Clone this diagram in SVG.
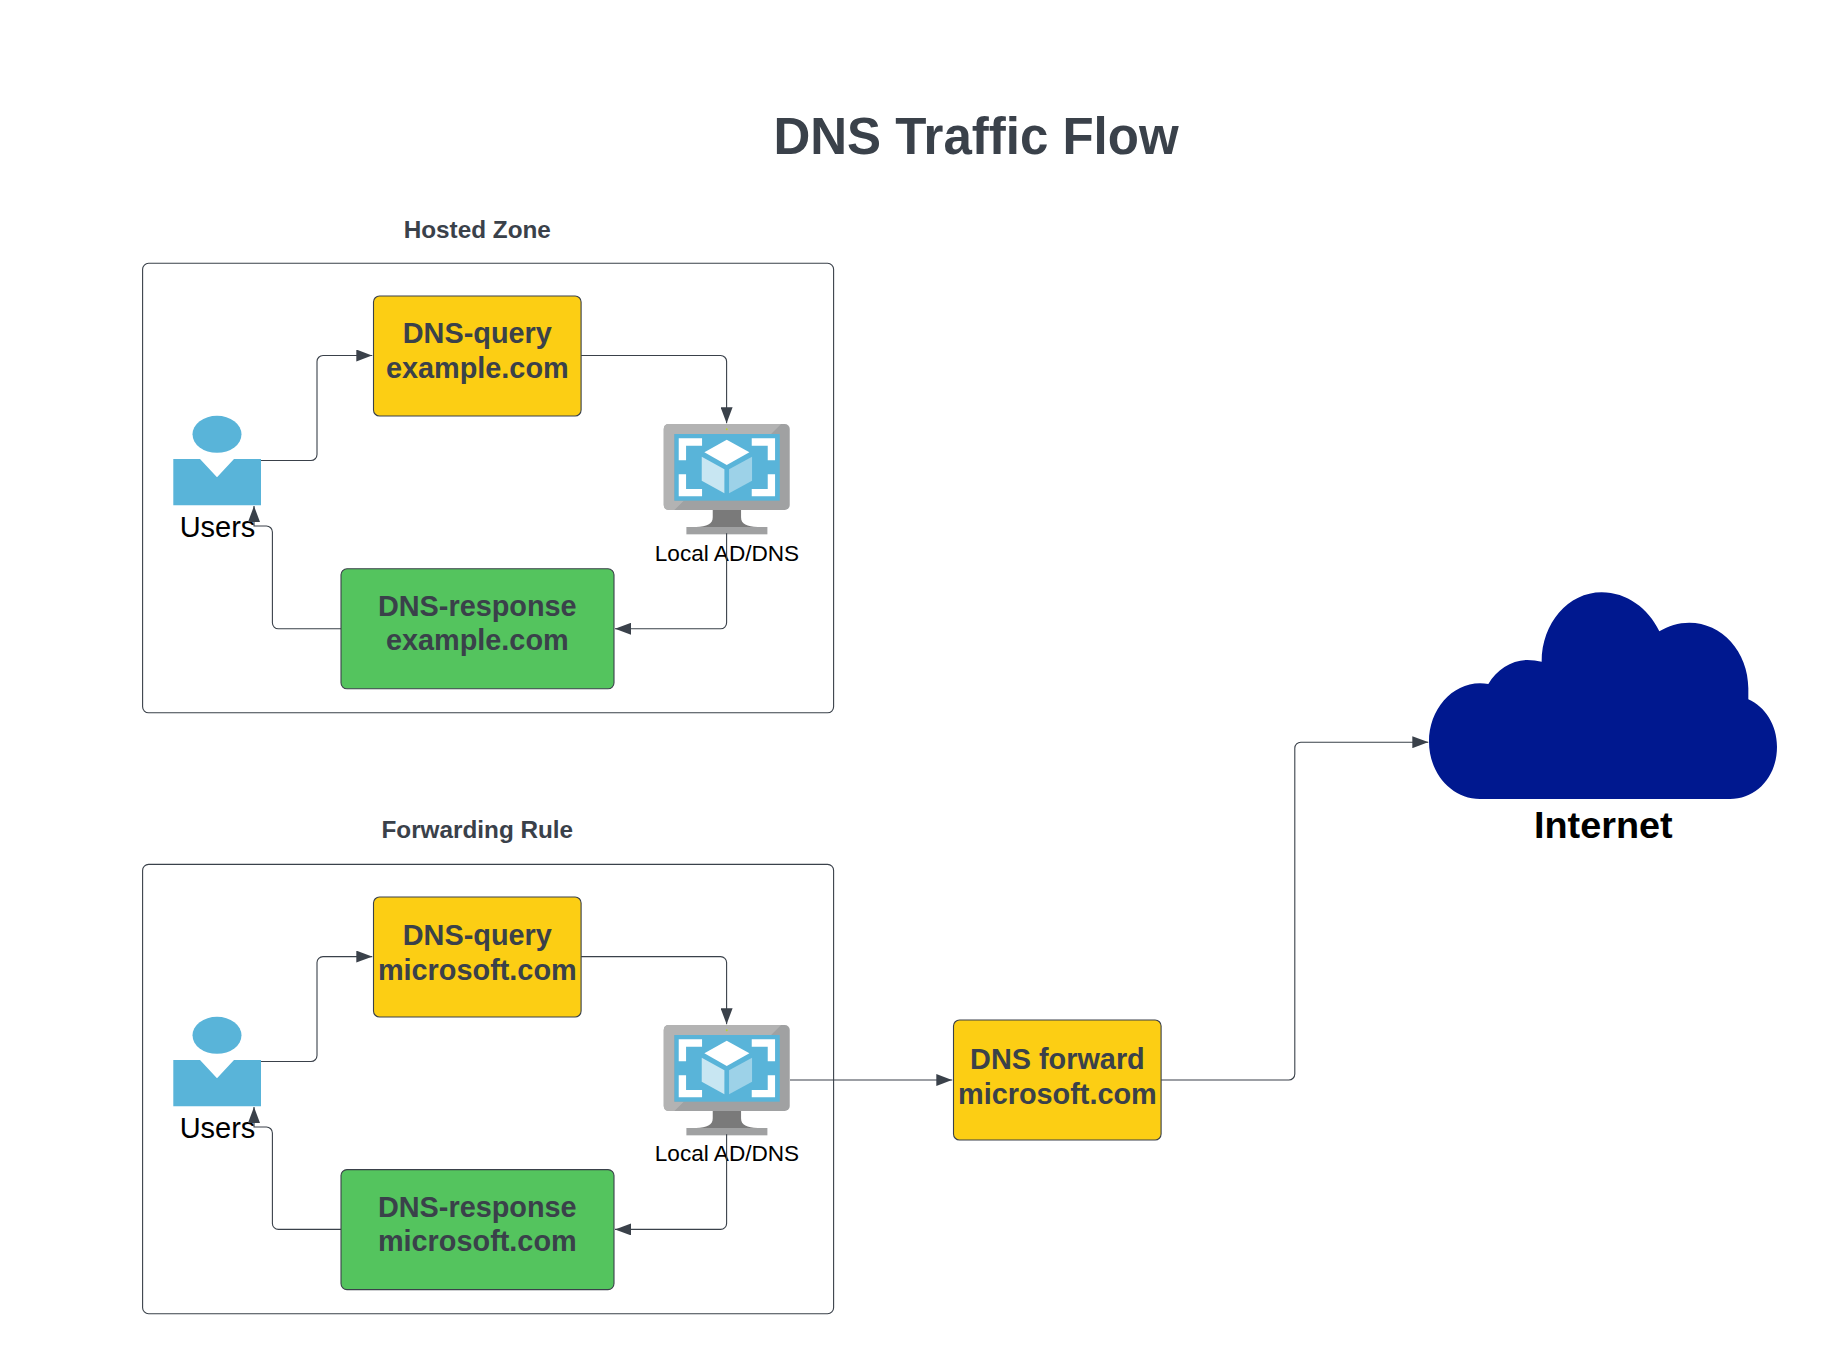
<svg xmlns="http://www.w3.org/2000/svg" xmlns:xlink="http://www.w3.org/1999/xlink" width="1847" height="1355" viewBox="0 0 1847 1355">
<style>
text{font-family:"Liberation Sans",Arial,sans-serif;text-anchor:middle}
.title{font-size:51px;font-weight:700;fill:#3a414a}
.cap{font-size:24.3px;font-weight:700;fill:#3a414a}
.lbl{font-size:28.85px;font-weight:700;fill:#3a414a}
.users{font-size:29px;fill:#000}
.local{font-size:22.6px;fill:#000}
.inet{font-size:37.8px;font-weight:700;fill:#000}
.frame{fill:#fff;stroke:#3a414a;stroke-width:1.1}
.yel{fill:#fcce14;stroke:#3a414a;stroke-width:1.1}
.grn{fill:#54c45e;stroke:#3a414a;stroke-width:1.1}
.con{fill:none;stroke:#3a414a;stroke-width:1.1;marker-end:url(#arr)}
</style>
<defs>
<marker id="arr" markerUnits="userSpaceOnUse" viewBox="0 0 16 12" refX="16" refY="6" markerWidth="16" markerHeight="12" orient="auto"><path d="M0,0L16,6L0,12z" fill="#3a414a"/></marker>
<g id="user">
<ellipse cx="217" cy="434.3" rx="24.5" ry="18.5" fill="#59b4d9"/>
<path d="M173.3,459H200L217,477.3L234,459H261V505.3H173.3z" fill="#59b4d9"/>
</g>
<g id="vm" transform="translate(650,410) scale(0.33333)">
<rect x="40" y="42" width="378" height="258" rx="15" fill="#a0a1a2"/>
<path d="M55,42H392L362,72H72V272H100L72,300H55Q40,300 40,285V57Q40,42 55,42z" fill="#b3b3b3"/>
<rect x="72" y="72" width="316" height="200" fill="#59b4d9"/>
<path d="M85,85H155V107H107V151H85zM304,85H374V151H352V107H304zM85,193H107V237H155V259H85zM352,193H374V259H304V237H352z" fill="#fff"/>
<path d="M229,89L297,127L229,165L162,127z" fill="#fff"/>
<path d="M154,140L222,178V250L154,212z" fill="#c8e6f2"/>
<path d="M236,178L305,140V212L236,250z" fill="#9dd2e8"/>
<path d="M187,300H272V322C272,343 290,350 322,351H137C169,350 187,343 187,322z" fill="#7a7a7a"/>
<rect x="108" y="351" width="243" height="22" fill="#a0a1a2"/>
<circle cx="229" cy="58" r="3" fill="#b8d432"/>
</g>
</defs>
<rect width="1847" height="1355" fill="#fff"/>
<text class="title" x="976" y="153.6">DNS Traffic Flow</text>
<g id="hosted-zone">
<text class="cap" x="477.3" y="238.3">Hosted Zone</text>
<rect class="frame" x="142.6" y="263.3" width="691" height="449.5" rx="6"/>
</g>
<g id="forwarding-rule">
<text class="cap" x="477.3" y="838.4">Forwarding Rule</text>
<rect class="frame" x="142.6" y="864.4" width="691" height="449.3" rx="6"/>
</g>
<g id="query1"><rect class="yel" x="373.5" y="296" width="207.6" height="120" rx="6"/><text class="lbl" x="477.3" y="343.3">DNS-query</text><text class="lbl" x="477.3" y="377.9">example.com</text></g>
<g id="response1"><rect class="grn" x="341" y="568.8" width="273" height="120" rx="6"/><text class="lbl" x="477.3" y="615.7">DNS-response</text><text class="lbl" x="477.3" y="650.3">example.com</text></g>
<g id="users1"><use xlink:href="#user" href="#user"/><text class="users" x="217.5" y="537">Users</text></g>
<g id="dns1"><use xlink:href="#vm" href="#vm" x="0.4"/><text class="local" x="727" y="560.7">Local AD/DNS</text></g>
<g id="query2"><rect class="yel" x="373.5" y="897" width="207.6" height="120" rx="6"/><text class="lbl" x="477.3" y="945.4">DNS-query</text><text class="lbl" x="477.3" y="980.3">microsoft.com</text></g>
<g id="response2"><rect class="grn" x="341" y="1169.6" width="273" height="120" rx="6"/><text class="lbl" x="477.3" y="1216.5">DNS-response</text><text class="lbl" x="477.3" y="1251.4">microsoft.com</text></g>
<g id="users2"><use xlink:href="#user" href="#user" y="601"/><text class="users" x="217.5" y="1137.6">Users</text></g>
<g id="dns2"><use xlink:href="#vm" href="#vm" x="0.4" y="601"/><text class="local" x="727" y="1161.3">Local AD/DNS</text></g>
<g id="forward"><rect class="yel" x="953.5" y="1020" width="207.6" height="120" rx="6"/><text class="lbl" x="1057.4" y="1069">DNS forward</text><text class="lbl" x="1057.4" y="1103.7">microsoft.com</text></g>
<g id="internet">
<path transform="translate(1400,570) scale(0.33333)" d="M240,687C155,687 87,610 87,515C87,420 155,340 240,340Q253,340 265,342C290,300 335,270 382,270Q405,270 425,275C425,160 505,67 605,67C680,67 745,115 778,184C805,168 835,158 868,158C965,158 1045,245 1045,355V388C1095,410 1131,465 1131,530C1131,620 1070,687 990,687z" fill="#00188f"/>
<text class="inet" x="1603.3" y="837.7">Internet</text>
</g>
<g id="connectors">
<path class="con" d="M261,460.5H311a6,6 0 0 0 6,-6V361.5a6,6 0 0 1 6,-6H372.3"/>
<path class="con" d="M581.1,355.5H720.6a6,6 0 0 1 6,6V423.3"/>
<path class="con" d="M726.6,533.3V622.8a6,6 0 0 1 -6,6H615"/>
<path class="con" d="M341,628.8H278.4a6,6 0 0 1 -6,-6V532a6,6 0 0 0 -6,-6H254V506"/>
<path class="con" d="M261,1061.5H311a6,6 0 0 0 6,-6V962.6a6,6 0 0 1 6,-6H372.3"/>
<path class="con" d="M581.1,956.6H720.6a6,6 0 0 1 6,6V1024.3"/>
<path class="con" d="M726.6,1134.3V1223.4a6,6 0 0 1 -6,6H615"/>
<path class="con" d="M341,1229.4H278.4a6,6 0 0 1 -6,-6V1133a6,6 0 0 0 -6,-6H254V1107"/>
<path class="con" d="M790,1080H952.3"/>
<path class="con" d="M1161.1,1080H1288.8a6,6 0 0 0 6,-6V748.2a6,6 0 0 1 6,-6H1428.3"/>
</g>
</svg>
